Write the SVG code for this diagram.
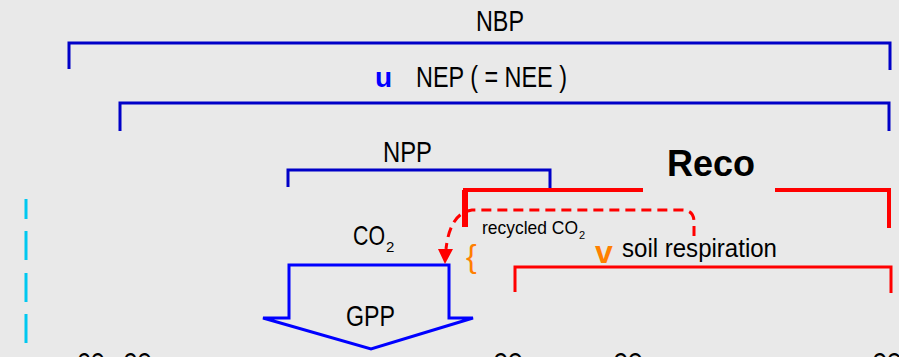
<svg xmlns="http://www.w3.org/2000/svg" width="899" height="357" viewBox="0 0 899 357">
  <style>
    .lbl { font-family: "Liberation Sans Narrow", "Liberation Sans", Arial, sans-serif; fill: #000; }
    .blue { fill: none; stroke: #0000c8; stroke-width: 3; }
    .red { fill: none; stroke: #ff0000; }
    .cyan { stroke: #00c8f0; stroke-width: 3; stroke-dasharray: 20 12 29 13 29 12 29; }
  </style>
  <rect width="899" height="357" fill="#e9e9e9"/>

  <!-- NBP bracket -->
  <g id="nbp">
    <polyline class="blue" points="69,69 69,43 890,43 890,70"/>
    <text class="lbl" x="476" y="31" font-size="29" textLength="48" lengthAdjust="spacingAndGlyphs">NBP</text>
  </g>

  <!-- NEP bracket -->
  <g id="nep">
    <polyline class="blue" points="120,131 120,103 889,103 889,131"/>
    <text x="375" y="87" font-family="Liberation Sans, Arial, sans-serif" font-weight="bold" font-size="28" fill="#0000ff">u</text>
    <text class="lbl" x="416" y="87" font-size="29" textLength="151" lengthAdjust="spacingAndGlyphs">NEP ( = NEE )</text>
  </g>

  <!-- NPP bracket -->
  <g id="npp">
    <polyline class="blue" points="288,187 288,170 550,170 550,188"/>
    <text class="lbl" x="383" y="162" font-size="29" textLength="49" lengthAdjust="spacingAndGlyphs">NPP</text>
  </g>

  <!-- Reco bracket -->
  <g id="reco">
    <polyline class="red" stroke-width="4" points="463,190 643,190"/>
    <polyline class="red" stroke-width="4" points="775,190 889,190 889,228"/>
    <line class="red" stroke-width="6" x1="465" y1="190" x2="465" y2="227"/>
    <text x="667" y="176" font-family="Liberation Sans, Arial, sans-serif" font-weight="bold" font-size="36" fill="#000">Reco</text>
  </g>

  <!-- soil respiration bracket -->
  <g id="soil">
    <polyline class="red" stroke-width="3" points="515,292 515,267 891,267 891,293"/>
    <text x="595" y="263" font-family="Liberation Sans, Arial, sans-serif" font-weight="bold" font-size="32" fill="#ff8000">v</text>
    <text class="lbl" x="622" y="257" font-size="26" textLength="155" lengthAdjust="spacingAndGlyphs">soil respiration</text>
  </g>

  <!-- GPP uptake arrow -->
  <g id="gpp">
    <polygon fill="none" stroke="#0000ff" stroke-width="3" stroke-linejoin="miter" points="289,265 449,265 449,318 473,318 371,349 263,318 289,318"/>
    <text class="lbl" x="346" y="326" font-size="29" textLength="49" lengthAdjust="spacingAndGlyphs">GPP</text>
    <text class="lbl" x="353" y="245" font-size="28"><tspan textLength="32" lengthAdjust="spacingAndGlyphs">CO</tspan><tspan dx="1" dy="7" font-size="15">2</tspan></text>
  </g>

  <!-- recycled CO2 label -->
  <g id="recycled">
    <text class="lbl" x="482" y="234" font-size="19"><tspan textLength="96" lengthAdjust="spacingAndGlyphs">recycled CO</tspan><tspan dx="1" dy="5" font-size="11">2</tspan></text>
    <text x="466" y="267" font-family="Liberation Sans, Arial, sans-serif" font-size="32" fill="#ff8000">{</text>
  </g>

  <!-- connectors -->
  <g id="connectors">
    <path fill="none" stroke="#ff0000" stroke-width="3" stroke-dasharray="10 6" d="M694,236 L694,222 Q694,210 682,210 L472,210 Q450,213 446,249"/>
    <polygon fill="#ff0000" points="438,249 453,249 445,264"/>
    <line class="cyan" x1="26" y1="199" x2="26" y2="343"/>
  </g>

  <!-- CO2 labels along the lower edge -->
  <g id="bottom">
    <text class="lbl" x="77" y="373" font-size="29" textLength="28" lengthAdjust="spacingAndGlyphs">CO</text>
    <text class="lbl" x="123" y="373" font-size="29" textLength="29" lengthAdjust="spacingAndGlyphs">CO</text>
    <text class="lbl" x="493" y="373" font-size="29" textLength="30" lengthAdjust="spacingAndGlyphs">CO</text>
    <text class="lbl" x="613" y="373" font-size="29" textLength="30" lengthAdjust="spacingAndGlyphs">CO</text>
    <text class="lbl" x="872" y="373" font-size="29" textLength="30" lengthAdjust="spacingAndGlyphs">CO</text>
  </g>
</svg>
